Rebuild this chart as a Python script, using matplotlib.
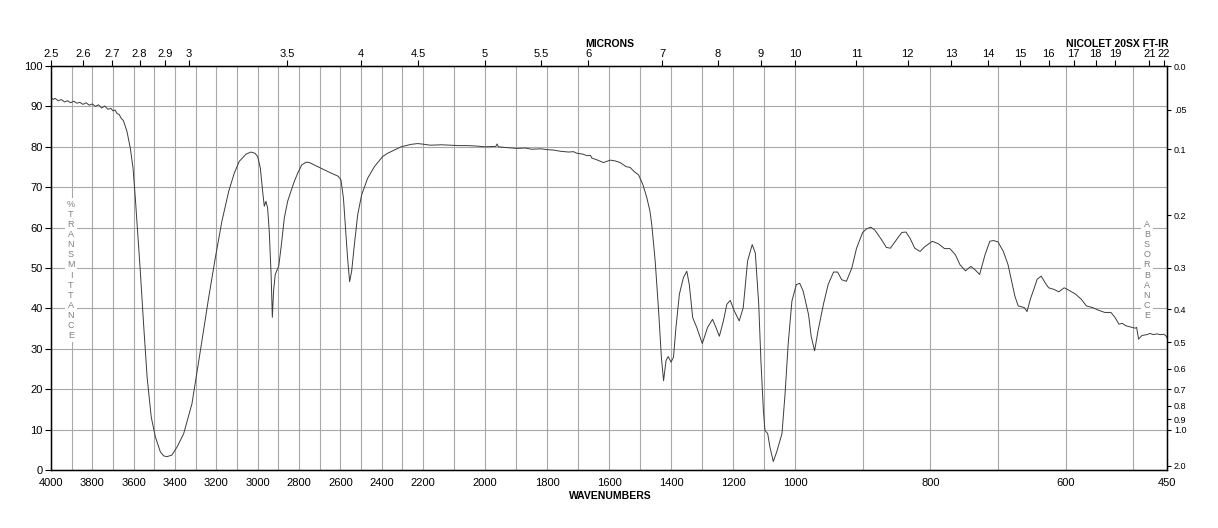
import numpy as np
import matplotlib
matplotlib.use("Agg")
from matplotlib import pyplot as plt

plt.rcParams['font.family'] = ['Liberation Sans', 'DejaVu Sans']

# spectrum: wavenumber (cm-1) and %T
wavenumbers = [
    4000, 3990, 3980, 3965, 3950, 3935, 3920, 3905, 3890, 3875, 3860, 3845,
    3830, 3815, 3800, 3785, 3770, 3755, 3740, 3725, 3710, 3700, 3690, 3680,
    3670, 3660, 3650, 3640, 3632, 3616, 3603, 3592, 3581, 3568, 3552, 3535,
    3515, 3495, 3471, 3455, 3439, 3415, 3390, 3358, 3318, 3277, 3237, 3205,
    3173, 3140, 3113, 3089, 3056, 3032, 3013, 3000, 2987, 2976, 2968, 2960,
    2952, 2944, 2935, 2929, 2923, 2915, 2898, 2887, 2871, 2855, 2839, 2823,
    2806, 2787, 2766, 2750, 2726, 2694, 2645, 2610, 2597, 2585, 2576, 2565,
    2555, 2545, 2532, 2516, 2497, 2468, 2435, 2395, 2371, 2339, 2306, 2258,
    2226, 2207, 2176, 2140, 2111, 2085, 2060, 2030, 2000, 1965, 1961, 1957,
    1930, 1896, 1870, 1850, 1820, 1800, 1780, 1757, 1730, 1715, 1703, 1685,
    1671, 1660, 1655, 1640, 1618, 1596, 1580, 1564, 1545, 1532, 1518, 1505,
    1491, 1478, 1468, 1462, 1451, 1440, 1431, 1424, 1416, 1409, 1400, 1392,
    1384, 1373, 1360, 1349, 1341, 1330, 1317, 1299, 1282, 1266, 1255, 1244,
    1231, 1220, 1209, 1196, 1180, 1167, 1153, 1138, 1128, 1117, 1110, 1102,
    1097, 1088, 1081, 1070, 1059, 1042, 1032, 1022, 1010, 998, 993, 988,
    980, 976, 971, 966, 958, 951, 943, 937, 931, 924, 916, 909,
    900, 894, 888, 882, 872, 865, 859, 850, 842, 836, 830, 823,
    815, 808, 797, 788, 779, 771, 763, 756, 748, 740, 734, 727,
    719, 712, 707, 700, 692, 685, 680, 675, 670, 665, 661, 657,
    652, 647, 642, 636, 630, 625, 617, 610, 602, 595, 585, 577,
    569, 560, 552, 542, 533, 527, 521, 516, 511, 502, 497, 495,
    492, 487, 480, 475, 470, 465, 460, 455, 452, 450,
]
transmittance = [
    92.2, 91.7, 92.0, 91.4, 91.7, 91.1, 91.4, 90.9, 91.3, 90.8, 91.0, 90.5,
    90.9, 90.3, 90.6, 90.0, 90.4, 89.6, 90.1, 89.3, 89.5, 88.9, 89.1, 88.2,
    88.0, 87.0, 86.5, 85.0, 83.7, 79.6, 74.7, 67.3, 59.1, 49.3, 36.1, 23.0,
    13.1, 8.2, 4.5, 3.5, 3.3, 3.7, 5.7, 9.0, 16.4, 29.6, 42.7, 52.5,
    61.6, 69.0, 73.5, 76.4, 78.2, 78.7, 78.4, 77.6, 74.7, 69.0, 65.3, 66.5,
    64.9, 59.1, 48.4, 37.8, 44.3, 48.4, 50.5, 55.0, 62.4, 66.5, 69.0, 71.4,
    73.5, 75.5, 76.2, 76.1, 75.5, 74.7, 73.5, 72.7, 71.8, 67.3, 60.8, 52.5,
    46.6, 49.3, 55.8, 63.2, 68.1, 72.2, 75.1, 77.6, 78.4, 79.2, 80.0, 80.6,
    80.8, 80.7, 80.4, 80.5, 80.4, 80.3, 80.3, 80.2, 80.0, 80.1, 80.7, 80.0,
    79.8, 79.6, 79.7, 79.4, 79.5, 79.3, 79.2, 78.9, 78.7, 78.8, 78.4, 78.2,
    77.8, 77.9, 77.2, 76.8, 76.1, 76.7, 76.5, 76.1, 75.1, 74.9, 73.8, 73.1,
    70.7, 67.4, 64.1, 60.7, 51.7, 39.4, 27.9, 22.1, 27.1, 28.1, 26.7, 27.9,
    35.3, 43.5, 47.6, 49.2, 45.9, 37.7, 35.3, 31.3, 35.3, 37.3, 35.3, 33.1,
    36.9, 41.0, 42.0, 39.4, 36.9, 40.2, 51.7, 55.8, 53.7, 41.0, 27.1, 14.8,
    9.8, 9.0, 5.7, 2.1, 4.5, 9.0, 18.9, 31.2, 41.8, 45.9, 46.2, 44.3,
    38.5, 33.0, 29.5, 34.4, 41.0, 45.9, 49.0, 49.0, 47.1, 46.7, 50.0, 54.9,
    58.8, 59.7, 60.1, 59.4, 57.0, 55.1, 54.9, 57.0, 58.8, 58.9, 57.4, 54.9,
    54.1, 55.3, 56.6, 56.0, 54.8, 54.8, 53.3, 50.8, 49.3, 50.4, 49.6, 48.4,
    53.3, 56.6, 56.8, 56.5, 54.1, 50.8, 47.0, 43.1, 40.6, 40.4, 40.2, 39.2,
    42.3, 44.7, 47.2, 48.0, 46.3, 45.1, 44.7, 44.1, 45.1, 44.5, 43.5, 42.3,
    40.6, 40.2, 39.6, 39.0, 39.0, 37.8, 36.1, 36.3, 35.7, 35.3, 35.1, 35.3,
    32.4, 33.3, 33.5, 33.8, 33.5, 33.7, 33.5, 33.6, 33.3, 32.7,
]

wn_labels = [4000, 3800, 3600, 3400, 3200, 3000, 2800, 2600, 2400, 2200,
             2000, 1800, 1600, 1400, 1200, 1000, 800, 600, 450]
wn_grid = list(range(3900, 2100, -100)) + list(range(2100, 1000, -100)) + list(range(1000, 450, -100))
microns = [2.5, 2.6, 2.7, 2.8, 2.9, 3, 3.5, 4, 4.5, 5, 5.5, 6, 7, 8, 9, 10,
           11, 12, 13, 14, 15, 16, 17, 18, 19, 21, 22]
absorbance = [0.0, 0.05, 0.1, 0.2, 0.3, 0.4, 0.5, 0.6, 0.7, 0.8, 0.9, 1.0, 2.0]
absorbance_labels = ['0.0', '.05', '0.1', '0.2', '0.3', '0.4', '0.5', '0.6',
                     '0.7', '0.8', '0.9', '1.0', '2.0']

# chart paper: three equal-width segments 4000-2200, 2200-1000, 1000-450
seg_wn = [450, 1000, 2200, 4000]
seg_pos = [0, 1, 2, 3]


def fwd(w):
    return np.interp(w, seg_wn, seg_pos)


def inv(p):
    return np.interp(p, seg_pos, seg_wn)


fig = plt.figure(figsize=(12.18, 5.28), dpi=100)
ax = fig.add_axes([51 / 1218, 1 - 470 / 528, 1116 / 1218, 404 / 528])
ax.set_xscale('function', functions=(fwd, inv))
ax.set_xlim(4000, 450)
ax.set_ylim(0, 100)

grid_col = '#a8a8a8'
ax.set_xticks(wn_labels, labels=[str(w) for w in wn_labels])
ax.set_xticks(wn_grid, minor=True)
ax.set_yticks(range(0, 101, 10))
ax.grid(which='both', axis='x', color=grid_col, lw=0.8)
ax.grid(which='major', axis='y', color=grid_col, lw=0.8)
ax.tick_params(axis='x', which='both', length=0, pad=6, labelsize=8)
ax.tick_params(axis='y', length=4, width=0.8, pad=2, labelsize=8)

ax.plot(wavenumbers, transmittance, color='#3c3c3c', lw=0.7, zorder=3)

for s in ax.spines.values():
    s.set_color('#333333')
    s.set_linewidth(1.0)

# micron scale on top
ax_top = ax.twiny()
ax_top.set_xscale('function', functions=(fwd, inv))
ax_top.set_xlim(4000, 450)
ax_top.set_xticks([10000 / m for m in microns], labels=[('%g' % m) for m in microns])
ax_top.tick_params(axis='x', length=4, width=0.8, pad=1, labelsize=8)

# absorbance scale on the right
ax_r = ax.twinx()
ax_r.set_ylim(0, 100)
ax_r.set_yticks([100 * 10 ** (-a) for a in absorbance], labels=absorbance_labels)
ax_r.tick_params(axis='y', length=3, width=0.8, pad=2, labelsize=6.5)

fig.text(610 / 1218, 1 - 44 / 528, 'MICRONS', ha='center', va='center',
         fontsize=7.5, fontweight='bold')
fig.text(1168 / 1218, 1 - 44 / 528, 'NICOLET 20SX FT-IR', ha='right', va='center',
         fontsize=7.5, fontweight='bold')
fig.text(610 / 1218, 1 - 496 / 528, 'WAVENUMBERS', ha='center', va='center',
         fontsize=7.5, fontweight='bold')

fig.text(71 / 1218, 1 - 270 / 528, '\n'.join('%TRANSMITTANCE'), ha='center',
         va='center', fontsize=6.5, color='#808080', linespacing=1.15,
         bbox=dict(facecolor='white', edgecolor='none', pad=1.5))
fig.text(1147 / 1218, 1 - 270 / 528, '\n'.join('ABSORBANCE'), ha='center',
         va='center', fontsize=6.5, color='#808080', linespacing=1.15,
         bbox=dict(facecolor='white', edgecolor='none', pad=1.5))

fig.savefig('out.png', dpi=100)
